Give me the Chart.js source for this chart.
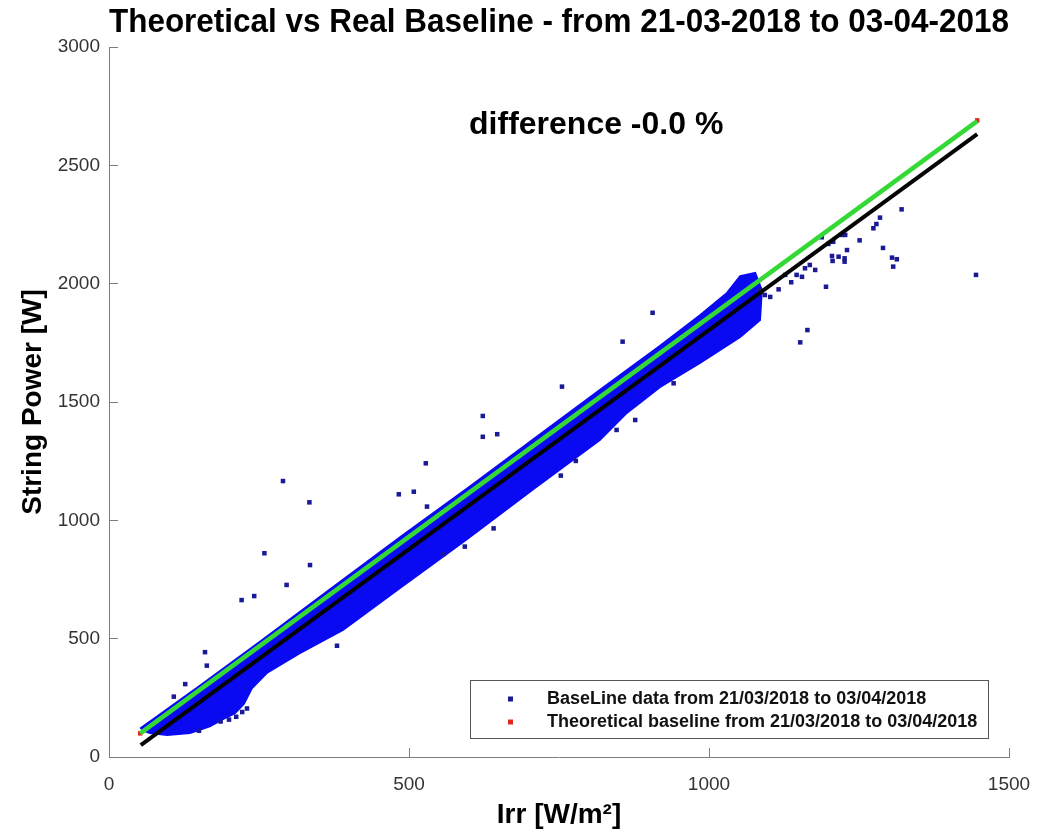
<!DOCTYPE html>
<html><head><meta charset="utf-8">
<script src="https://cdn.jsdelivr.net/npm/chart.js@4/dist/chart.umd.min.js"></script>
<style>html,body{margin:0;padding:0;background:#fff}#wrap{width:1039px;height:834px;position:relative}</style>
</head><body><div id="wrap"><canvas id="c"></canvas></div>
<script>
// ---------- texts ----------
const titleText = 'Theoretical vs Real Baseline - from 21-03-2018 to 03-04-2018';
const xTitle = 'Irr [W/m\u00B2]';
const yTitle = 'String Power [W]';
const diffText = 'difference -0.0 %';
const diffAt = [812, 2668];
const seriesLabels = ['BaseLine data from 21/03/2018 to 03/04/2018', 'Theoretical baseline from 21/03/2018 to 03/04/2018'];
const xTicks = [0, 500, 1000, 1500];
const yTicks = [0, 500, 1000, 1500, 2000, 2500, 3000];

const bandUpperIrr = [52, 152, 252, 368, 485, 602, 718, 818, 918, 985, 1030, 1052, 1077, 1088];
const bandUpperPow = [120, 302, 488, 708, 928, 1144, 1362, 1550, 1736, 1866, 1961, 2032, 2045, 1973];
const bandLowerIrr = [1085, 1052, 985, 918, 863, 818, 707, 597, 485, 390, 318, 263, 238, 225, 210, 190, 168, 135, 97, 68, 55];
const bandLowerPow = [1846, 1775, 1665, 1563, 1454, 1339, 1132, 921, 714, 537, 439, 355, 290, 225, 185, 160, 130, 101, 93, 101, 114];

// ---------- isolated measurement points ----------
const outlierIrr = [259, 335, 296, 221, 242, 160, 163, 127, 108, 150, 380, 290, 334,
  755, 623, 623, 647, 528, 483, 508, 530, 778, 753, 641, 593, 558,
  906, 856, 1195, 1164, 1152, 1116, 1137, 941, 877, 846,
  1321, 1285, 1279, 1274, 1251, 1230, 1290, 1305, 1313, 1307, 1205, 1216, 1206, 1226, 1226,
  1221, 1227, 1207, 1199, 1177, 1168, 1160, 1155, 1146, 1127, 1188, 1445, 1093, 1102, 1085,
  200, 212, 222, 230, 186];
const outlierPow = [861, 811, 727, 663, 680, 443, 386, 308, 255, 111, 470, 1166, 1076,
  1565, 1441, 1353, 1364, 1241, 1110, 1121, 1058, 1251, 1189, 966, 889, 858,
  1877, 1755, 1987, 1804, 1752, 1976, 2006, 1579, 1424, 1382,
  2314, 2279, 2252, 2234, 2183, 2142, 2151, 2110, 2103, 2072, 2117, 2114, 2096, 2107, 2093,
  2206, 2206, 2177, 2168, 2058, 2079, 2065, 2029, 2037, 2037, 2196, 2037, 1952, 1944, 1973,
  158, 170, 190, 205, 150];

// ---------- theoretical baseline & fitted lines ----------
const theoIrr = [52, 1447];
const theoPow = [100, 2690];
const greenIrr = [52, 1447];
const greenPow = [100, 2687];
const blackIrr = [53, 1447];
const blackPow = [50, 2632];

const pts = (xs, ys) => xs.map((x, i) => ({x: x, y: ys[i]}));
const bandPoly = pts(bandUpperIrr, bandUpperPow).concat(pts(bandLowerIrr, bandLowerPow));

const FONT = '"Liberation Sans", Arial, Helvetica, sans-serif';
Chart.defaults.font.family = FONT;

const diffPlugin = {
  id: 'diffText',
  afterDatasetsDraw(chart) {
    const {ctx, scales} = chart;
    ctx.save();
    ctx.font = 'bold 32px ' + FONT;
    ctx.fillStyle = '#000';
    ctx.textAlign = 'center';
    ctx.textBaseline = 'middle';
    ctx.fillText(diffText, scales.x.getPixelForValue(diffAt[0]), scales.y.getPixelForValue(diffAt[1]));
    ctx.restore();
  }
};

const legendPlugin = {
  id: 'boxLegend',
  afterDraw(chart) {
    const {ctx, chartArea} = chart;
    const w = 518, h = 58;
    const left = chartArea.right - 21 - w;
    const top = chartArea.bottom - 19 - h;
    ctx.save();
    ctx.fillStyle = '#fff';
    ctx.fillRect(left, top, w, h);
    ctx.strokeStyle = '#555';
    ctx.lineWidth = 1;
    ctx.strokeRect(left + 0.5, top + 0.5, w, h);
    const entries = chart.data.datasets.filter(d => d.legendRow !== undefined);
    entries.forEach(d => {
      const cy = top + 19 + d.legendRow * 23;
      ctx.fillStyle = d.backgroundColor;
      ctx.fillRect(left + 38, cy - 2.5, 5, 5);
      ctx.fillStyle = '#111';
      ctx.font = 'bold 18px ' + FONT;
      ctx.textAlign = 'left';
      ctx.textBaseline = 'middle';
      ctx.fillText(d.label, left + 77, cy);
    });
    ctx.restore();
  }
};

const axisColor = '#7d7d7d';
new Chart(document.getElementById('c'), {
  type: 'scatter',
  data: {
    datasets: [
      {label: 'band', data: bandPoly, showLine: true, fill: 'shape', tension: 0,
       borderColor: '#0a0af2', backgroundColor: '#0a0af2', borderWidth: 2, pointRadius: 0, order: 6},
      {label: seriesLabels[0], legendRow: 0, data: pts(outlierIrr, outlierPow),
       pointStyle: 'rect', pointRadius: 3.2, backgroundColor: '#1a1a96', borderWidth: 0, order: 5},
      {label: seriesLabels[1], legendRow: 1, data: pts(theoIrr, theoPow),
       pointStyle: 'rect', pointRadius: 3.2, backgroundColor: '#e0281e', borderWidth: 0, order: 4},
      {label: 'green', data: pts(greenIrr, greenPow), showLine: true, borderColor: '#35d935',
       borderWidth: 4.5, pointRadius: 0, order: 3},
      {label: 'black', data: pts(blackIrr, blackPow), showLine: true, borderColor: '#050505',
       borderWidth: 4, pointRadius: 0, order: 2}
    ]
  },
  options: {
    responsive: true, maintainAspectRatio: false, animation: false,
    layout: {padding: {left: 0, right: 30, top: 0, bottom: 0}},
    plugins: {
      legend: {display: false}, tooltip: {enabled: false},
      title: {display: true, text: titleText, fullSize: false, color: '#000',
        font: {size: 33, weight: 'bold'}, padding: {top: 3, bottom: 4.4}}
    },
    scales: {
      x: {type: 'linear', min: 0, max: 1500,
        afterBuildTicks: s => { s.ticks = xTicks.map(v => ({value: v})); },
        afterFit: s => { s.height = 77; s.paddingLeft = 0; s.paddingRight = 0; },
        grid: {drawOnChartArea: false, tickLength: -9, color: axisColor},
        border: {color: axisColor, width: 1},
        ticks: {padding: 25.6, font: {size: 19}, color: '#333', maxRotation: 0, autoSkip: false,
          callback: v => String(v)},
        title: {display: true, text: xTitle, color: '#000', font: {size: 28, weight: 'bold'}, padding: {top: 0, bottom: 2}}
      },
      y: {type: 'linear', min: 0, max: 3000,
        afterBuildTicks: s => { s.ticks = yTicks.map(v => ({value: v})); },
        afterFit: s => { s.width = 109; },
        grid: {drawOnChartArea: false, tickLength: -9, color: axisColor},
        border: {color: axisColor, width: 1},
        ticks: {padding: 18, font: {size: 19}, color: '#333', autoSkip: false, callback: v => String(v)},
        title: {display: true, text: yTitle, color: '#000', font: {size: 28, weight: 'bold'}, padding: {top: 16, bottom: 0}}
      }
    }
  },
  plugins: [diffPlugin, legendPlugin]
});
</script></body></html>
